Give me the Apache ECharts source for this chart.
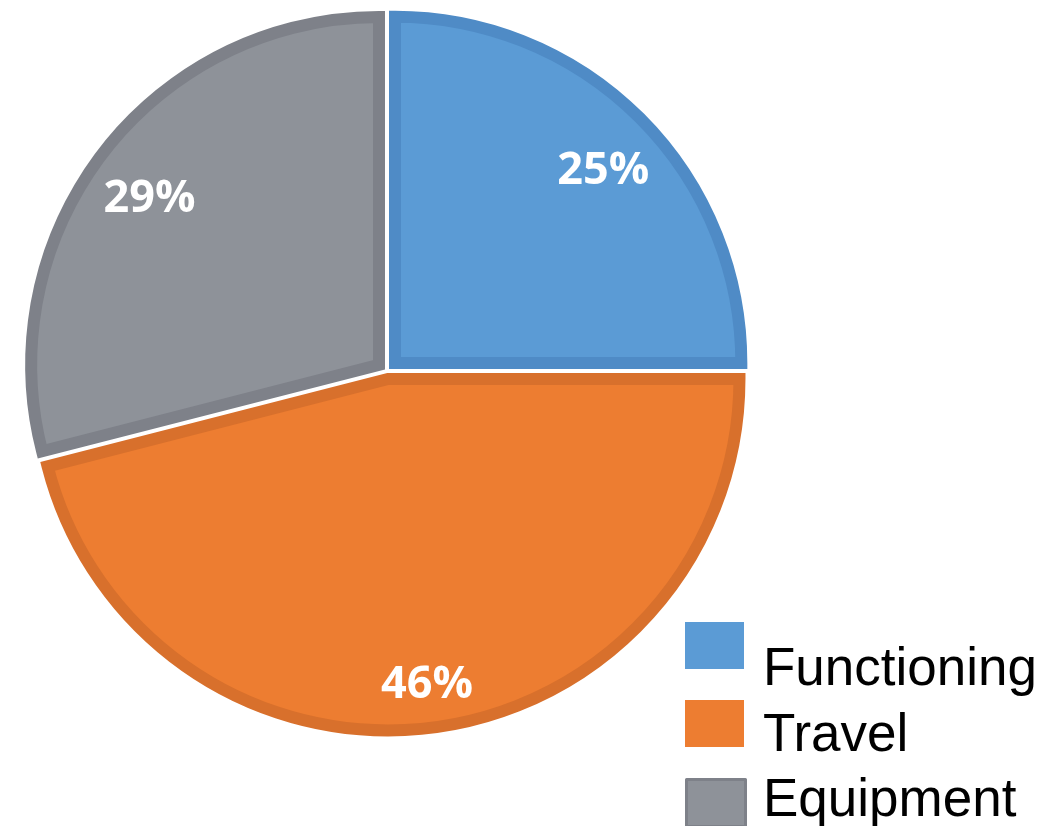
<!DOCTYPE html>
<html>
<head>
<meta charset="utf-8">
<style>
  html, body { margin: 0; padding: 0; background: #ffffff; }
  #chart { width: 1053px; height: 826px; }
</style>
<script src="https://cdn.jsdelivr.net/npm/echarts@6/dist/echarts.min.js"></script>
</head>
<body>
<div id="chart"></div>
<script>
// ---- data ----
const categories = ['Functioning', 'Travel', 'Equipment'];
const values = [25, 46, 29];
const lightColors = ['#5b9bd5', '#ed7d31', '#8e9299'];
const darkColors = ['#4f8bc6', '#d8702c', '#7e8189'];

// ---- geometry / style ----
const O = [387, 371];
const R = 362;
const GAP = 2;     // half of white gap
const BAND = 12;   // dark inner band width

const total = values.reduce((a, b) => a + b, 0);
const series = [];
let acc = 0;
values.forEach((v, i) => {
  const startDeg = 90 - acc / total * 360;
  const span = v / total * 360;
  acc += v;
  const mid = (startDeg - span / 2) * Math.PI / 180;
  const phi = span / 2 * Math.PI / 180;
  const s = (GAP + BAND / 2) / (phi < Math.PI / 2 ? Math.sin(phi) : 1);
  const cx = O[0] + s * Math.cos(mid);
  const cy = O[1] - s * Math.sin(mid);
  const rs = R - BAND / 2 - s * (1 + Math.cos(Math.min(phi, Math.PI / 2))) / 2;
  series.push({
    type: 'pie',
    center: [cx, cy],
    radius: [0, rs],
    startAngle: 90,
    clockwise: true,
    silent: true,
    avoidLabelOverlap: false,
    label: { show: false },
    labelLine: { show: false },
    emphasis: { disabled: true },
    z: 2,
    data: categories.map((n, j) => ({
      name: n,
      value: values[j],
      itemStyle: j === i
        ? { color: lightColors[i], borderColor: darkColors[i], borderWidth: BAND, borderJoin: 'miter', borderMiterLimit: 10 }
        : { color: 'rgba(0,0,0,0)', borderWidth: 0 }
    }))
  });
});

// label series
series.push({
  type: 'pie',
  center: O,
  radius: [238, 362],
  startAngle: 90,
  clockwise: true,
  silent: true,
  avoidLabelOverlap: false,
  emphasis: { disabled: true },
  z: 5,
  labelLine: { show: false },
  label: {
    show: true,
    position: 'inside',
    offset: [2, 14],
    color: '#ffffff',
    fontFamily: 'Open Sans',
    fontWeight: 'bold',
    fontSize: 45,
    formatter: p => Math.round(p.percent) + '%'
  },
  itemStyle: { color: 'rgba(0,0,0,0)', borderWidth: 0 },
  data: categories.map((n, j) => ({ name: n, value: values[j] }))
});

// legends: one icon legend and one text legend per category
const iconTops = [622, 700, 778];
const textTops = [644, 710, 775];
const legends = [];
categories.forEach((n, i) => {
  legends.push({
    orient: 'vertical',
    left: 685,
    top: iconTops[i],
    icon: 'rect',
    itemWidth: 59,
    itemHeight: 47,
    textGap: 0,
    padding: 0,
    selectedMode: false,
    formatter: () => '',
    textStyle: { fontSize: 1 },
    data: [{
      name: n,
      itemStyle: {
        color: lightColors[i],
        borderColor: i === 2 ? darkColors[2] : lightColors[i],
        borderWidth: i === 2 ? 3 : 0
      }
    }]
  });
  legends.push({
    orient: 'vertical',
    left: 758,
    top: textTops[i],
    icon: 'rect',
    itemWidth: 0,
    itemHeight: 0,
    textGap: 0,
    padding: 0,
    selectedMode: false,
    itemStyle: { opacity: 0 },
    textStyle: {
      fontFamily: 'Liberation Sans',
      fontSize: 53,
      lineHeight: 40,
      color: '#000000'
    },
    data: [{ name: n, itemStyle: { opacity: 0, borderWidth: 0 } }]
  });
});

const chart = echarts.init(document.getElementById('chart'), null, { renderer: 'canvas' });
chart.setOption({
  animation: false,
  backgroundColor: '#ffffff',
  legend: legends,
  series: series
});
</script>
</body>
</html>
